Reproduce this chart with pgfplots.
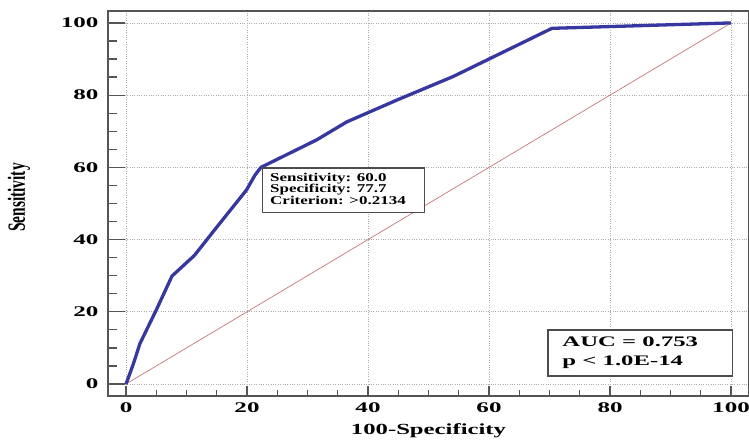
\documentclass[border=0pt]{standalone}
\usepackage{pgfplots}
\pgfplotsset{compat=1.18}
\usepackage{fontspec}
\setmainfont{Liberation Serif}
\definecolor{roc}{RGB}{55,55,160}
\definecolor{diag}{RGB}{195,120,120}
\definecolor{spine}{RGB}{85,85,85}
\pgfplotsset{common/.style={
  at={(0,0)}, anchor=south west,
  scale only axis, width=641bp, height=385bp,
  xmin=-2.98, xmax=102.97, ymin=-3.32, ymax=103.3,
  xtick={0,20,40,60,80,100}, ytick={0,20,40,60,80,100},
  minor x tick num=3, minor y tick num=3,
  tick pos=left, tick align=inside,
  every tick/.style={spine, line width=1.2bp},
}}
\begin{document}
\begin{tikzpicture}
\begin{axis}[
  common,
  axis line style={spine, line width=1.3bp},
  major tick length=17bp, minor tick length=9bp,
  xtick style={draw=none},
  grid=major,
  major grid style={dotted, gray!65, line width=0.8bp},
  xticklabel={\scalebox{1.7}[1]{\fontsize{14.8}{16}\selectfont\bfseries\pgfmathprintnumber[assume math mode=true]{\tick}}},
  yticklabel={\scalebox{1.7}[1]{\fontsize{14.8}{16}\selectfont\bfseries\pgfmathprintnumber[assume math mode=true]{\tick}}},
  xticklabel style={yshift=-3bp},
  yticklabel style={xshift=-6bp},
  xlabel={\scalebox{1.6}[1]{\fontsize{15.5}{17}\selectfont\bfseries 100-Specificity}},
  ylabel={\scalebox{1}[1.6]{\fontsize{15.5}{17}\selectfont\bfseries Sensitivity}},
  xlabel style={at={(axis description cs:0.5,0)}, anchor=north, yshift=-24bp},
  ylabel style={at={(axis description cs:0,0.5)}, anchor=center, yshift=89bp, xshift=6bp},
  clip=false,
]
\addplot[diag, line width=0.7bp] coordinates {(0,0) (100,100)};
\addplot[roc, line width=3.3bp, line join=round] coordinates {
(0,0) (1.2,5.5) (2.3,11.2) (5.0,20.5) (7.6,29.9) (11.3,35.6) (15.5,44.5)
(19.9,53.7) (21.3,57.8) (22.3,60) (31.5,67.6) (36.5,72.6) (45,78.8)
(54,85.1) (70.4,98.5) (100,100)};
\draw[gray!60!black, line width=1.2bp, fill=white] (axis cs:22.5,59.8) rectangle (axis cs:49.3,47.4);
\node[anchor=base west, inner sep=0pt] at (axis cs:23.8,56.1) {\scalebox{1.42}[1]{\fontsize{12}{12}\selectfont\bfseries Sensitivity: 60.0}};
\node[anchor=base west, inner sep=0pt] at (axis cs:23.8,52.9) {\scalebox{1.42}[1]{\fontsize{12}{12}\selectfont\bfseries Specificity: 77.7}};
\node[anchor=base west, inner sep=0pt] at (axis cs:23.8,49.6) {\scalebox{1.42}[1]{\fontsize{12}{12}\selectfont\bfseries Criterion: >0.2134}};
\draw[gray!60!black, line width=1.2bp, fill=white] (axis cs:69.75,14.96) rectangle (axis cs:100.2,2.2);
\node[anchor=base west, inner sep=0pt] at (axis cs:72.1,10.25) {\scalebox{1.7}[1]{\fontsize{14.6}{15}\selectfont\bfseries AUC = 0.753}};
\node[anchor=base west, inner sep=0pt] at (axis cs:72.1,5.26) {\scalebox{1.7}[1]{\fontsize{14.6}{15}\selectfont\bfseries p < 1.0E-14}};
\end{axis}
\begin{axis}[
  common,
  axis line style={draw=none},
  major tick length=10bp, minor tick length=6bp,
  ytick style={draw=none},
  xticklabels={}, yticklabels={},
]
\end{axis}
\pgfresetboundingbox
\path (-108bp,-44bp) rectangle (641bp,396bp);
\end{tikzpicture}
\end{document}
